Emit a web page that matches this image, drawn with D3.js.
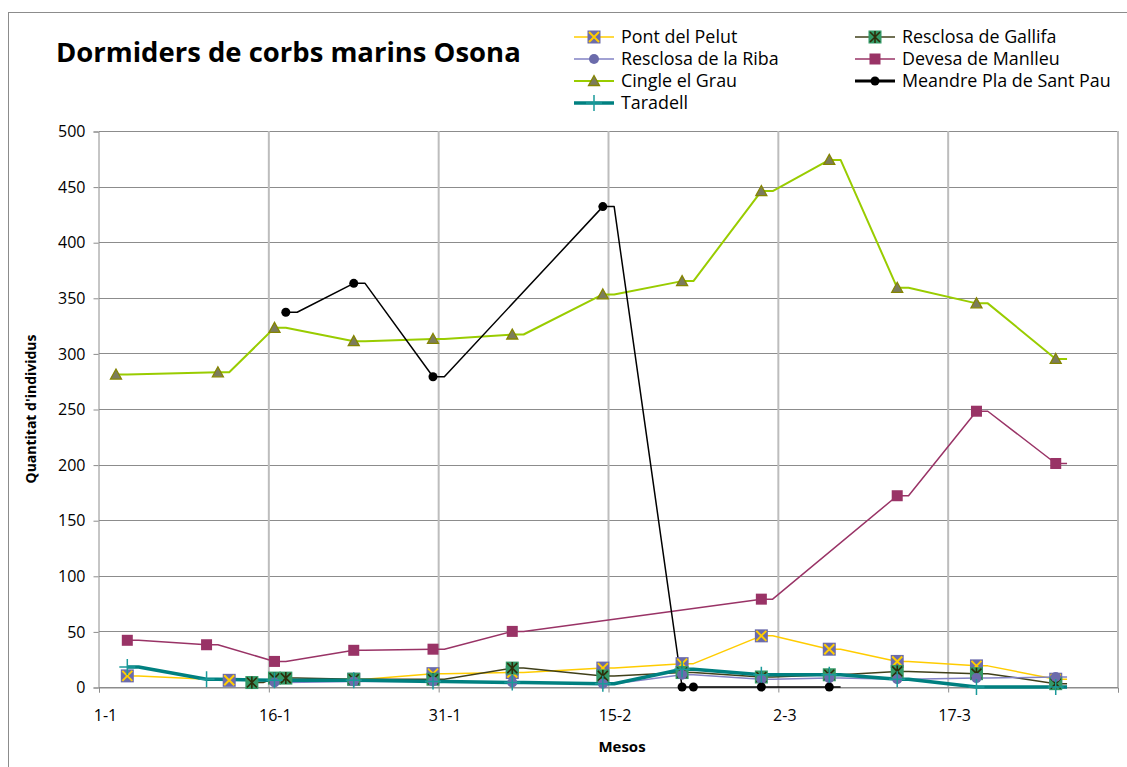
<!DOCTYPE html>
<html>
<head>
<meta charset="utf-8">
<script src="https://cdnjs.cloudflare.com/ajax/libs/d3/7.8.5/d3.min.js"></script>
<style>
  body { margin: 0; background: #fff; }
  svg { display: block; font-family: "Open Sans", sans-serif; }
</style>
</head>
<body>
<svg id="chart" width="1127" height="767"></svg>
<script>
// data (dates are day-month)
const seriesNames = ["Pont del Pelut", "Resclosa de Gallifa", "Resclosa de la Riba",
  "Devesa de Manlleu", "Cingle el Grau", "Meandre Pla de Sant Pau", "Taradell"];

const pontDates = ["3-1", "12-1", "23-1", "30-1", "6-2", "14-2", "21-2", "28-2", "6-3", "12-3", "19-3", "26-3"];
const pontValues = [10, 6, 7, 12, 13, 17, 21, 46, 34, 23, 19, 7];

const gallifaDates = ["14-1", "16-1", "17-1", "23-1", "30-1", "6-2", "14-2", "21-2", "28-2", "6-3", "12-3", "19-3", "26-3"];
const gallifaValues = [4, 8, 8, 7, 7, 17, 10, 13, 9, 11, 14, 12, 3];

const ribaDates = ["16-1", "23-1", "30-1", "6-2", "14-2", "21-2", "28-2", "6-3", "12-3", "19-3", "26-3"];
const ribaValues = [4, 5, 5, 4, 3, 11, 7, 8, 7, 8, 9];

const devesaDates = ["3-1", "10-1", "16-1", "23-1", "30-1", "6-2", "28-2", "12-3", "19-3", "26-3"];
const devesaValues = [42, 38, 23, 33, 34, 50, 79, 172, 248, 201];

const cingleDates = ["2-1", "11-1", "16-1", "23-1", "30-1", "6-2", "14-2", "21-2", "28-2", "6-3", "12-3", "19-3", "26-3"];
const cingleValues = [281, 283, 323, 311, 313, 317, 353, 365, 446, 474, 359, 345, 295];

const meandreDates = ["17-1", "23-1", "30-1", "14-2", "21-2", "22-2", "28-2", "6-3"];
const meandreValues = [337, 363, 279, 432, 0, 0, 0, 0];

const taradellDates = ["3-1", "10-1", "16-1", "23-1", "30-1", "6-2", "14-2", "21-2", "28-2", "6-3", "12-3", "19-3", "26-3"];
const taradellValues = [18, 7, 6, 6, 5, 4, 3, 16, 11, 11, 7, 0, 0];

const xTicks = ["1-1", "16-1", "31-1", "15-2", "2-3", "17-3"];
const yTicks = [0, 50, 100, 150, 200, 250, 300, 350, 400, 450, 500];

const parseDate = s => d3.utcParse("%d-%m-%Y")(s + "-2023");

const svg = d3.select("#chart");
const margin = { left: 99, right: 1118, top: 131, bottom: 687 };

const x = d3.scaleUtc()
  .domain([parseDate("1-1"), parseDate("1-4")])
  .range([margin.left, margin.right]);
const y = d3.scaleLinear().domain([0, 500]).range([margin.bottom, margin.top]);
const dayW = x(parseDate("2-1")) - x(parseDate("1-1"));

// outer chart border
svg.append("rect")
  .attr("x", 8.5).attr("y", 12.5)
  .attr("width", 1200).attr("height", 800)
  .attr("fill", "none").attr("stroke", "#8c8c8c");

// horizontal gridlines
svg.append("g")
  .selectAll("line")
  .data(yTicks)
  .join("line")
  .attr("x1", margin.left).attr("x2", margin.right)
  .attr("y1", d => Math.round(y(d)) + 0.5).attr("y2", d => Math.round(y(d)) + 0.5)
  .attr("stroke", "#8c8c8c");

// vertical gridlines
svg.append("g")
  .selectAll("line")
  .data(xTicks.slice(1).concat(["1-4"]))
  .join("line")
  .attr("x1", d => x(parseDate(d))).attr("x2", d => x(parseDate(d)))
  .attr("y1", margin.top).attr("y2", margin.bottom)
  .attr("stroke", "#bdbdbd").attr("stroke-width", 2);

// y axis
const yAxis = svg.append("g")
  .attr("transform", `translate(${margin.left - 0.5},0.5)`)
  .call(d3.axisLeft(y).tickValues(yTicks).tickSize(5).tickPadding(8));
yAxis.select(".domain").attr("stroke", "#8c8c8c");
yAxis.selectAll(".tick line").attr("stroke", "#8c8c8c");
yAxis.selectAll("text").attr("font-size", 16).attr("fill", "#000")
  .attr("font-family", "Open Sans");

// x axis
const xAxis = svg.append("g")
  .attr("transform", `translate(0,${Math.round(margin.bottom) + 0.5})`)
  .call(d3.axisBottom(x)
    .tickValues(xTicks.map(parseDate).concat([parseDate("1-4")]))
    .tickSize(5)
    .tickFormat(d => d3.utcFormat("%-d-%-m")(d)));
xAxis.select(".domain").attr("stroke", "#8c8c8c");
xAxis.selectAll(".tick line").attr("stroke", "#8c8c8c");
xAxis.selectAll("text")
  .attr("font-size", 16).attr("fill", "#000").attr("font-family", "Open Sans")
  .attr("dx", 6).attr("y", 0).attr("dy", 33)
  .text((d, i) => i < xTicks.length ? xTicks[i] : "");

// axis titles
svg.append("text")
  .attr("x", 622).attr("y", 752)
  .attr("text-anchor", "middle")
  .attr("font-size", 15).attr("font-weight", "bold")
  .text("Mesos");

svg.append("text")
  .attr("transform", "translate(36,409) rotate(-90)")
  .attr("text-anchor", "middle")
  .attr("font-size", 14).attr("font-weight", "bold")
  .text("Quantitat d'individus");

// title
const title = svg.append("text")
  .attr("x", 56).attr("y", 62)
  .attr("font-size", 28).attr("font-weight", "bold")
  .text("Dormiders de corbs marins Osona");
const tw = title.node().getComputedTextLength();
title.attr("font-size", 28 * 465 / tw);

const series = [
  { name: seriesNames[0], dates: pontDates, values: pontValues, color: "#ffcc00", width: 1.5, marker: "xsquare" },
  { name: seriesNames[1], dates: gallifaDates, values: gallifaValues, color: "#40401a", width: 1.5, marker: "star" },
  { name: seriesNames[2], dates: ribaDates, values: ribaValues, color: "#8282c4", width: 1.5, marker: "circle" },
  { name: seriesNames[3], dates: devesaDates, values: devesaValues, color: "#993366", width: 1.5, marker: "square" },
  { name: seriesNames[4], dates: cingleDates, values: cingleValues, color: "#99cc00", width: 2, marker: "triangle" },
  { name: seriesNames[5], dates: meandreDates, values: meandreValues, color: "#000000", width: 1.5, marker: "dot" },
  { name: seriesNames[6], dates: taradellDates, values: taradellValues, color: "#008080", width: 3.5, marker: "plus" }
];

series.forEach(s => {
  s.points = s.dates.map((d, i) => ({ date: parseDate(d), value: s.values[i] }));
});

// marker sits in the middle of its day, the line holds flat for one day after it
const px = d => x(d.date) + dayW / 2;
const line = d3.line();

const lineG = svg.append("g");
series.forEach(s => {
  const verts = [];
  s.points.forEach(p => {
    verts.push([px(p), y(p.value)]);
    verts.push([px(p) + dayW, y(p.value)]);
  });
  lineG.append("path")
    .attr("d", line(verts))
    .attr("fill", "none")
    .attr("stroke", s.color)
    .attr("stroke-width", s.width)
    .attr("stroke-linejoin", "round");
});

function drawMarker(g, type, cx, cy) {
  if (type === "xsquare") {
    g.append("rect").attr("x", cx - 6.5).attr("y", cy - 6.5).attr("width", 13).attr("height", 13)
      .attr("fill", "#6b6bab");
    g.append("path").attr("d", `M${cx - 5},${cy - 5}L${cx + 5},${cy + 5}M${cx - 5},${cy + 5}L${cx + 5},${cy - 5}`)
      .attr("stroke", "#ffcc00").attr("stroke-width", 2);
  } else if (type === "star") {
    g.append("rect").attr("x", cx - 6.5).attr("y", cy - 6.5).attr("width", 13).attr("height", 13)
      .attr("fill", "#339966");
    g.append("path").attr("d", `M${cx - 5},${cy - 5}L${cx + 5},${cy + 5}M${cx - 5},${cy + 5}L${cx + 5},${cy - 5}M${cx},${cy - 6}L${cx},${cy + 6}`)
      .attr("stroke", "#2e2e0a").attr("stroke-width", 1.6);
  } else if (type === "circle") {
    g.append("circle").attr("cx", cx).attr("cy", cy).attr("r", 5).attr("fill", "#6b6bab");
  } else if (type === "square") {
    g.append("rect").attr("x", cx - 5.5).attr("y", cy - 5.5).attr("width", 11).attr("height", 11)
      .attr("fill", "#993366");
  } else if (type === "triangle") {
    g.append("path").attr("d", `M${cx},${cy - 5.5}L${cx + 5.5},${cy + 4.5}L${cx - 5.5},${cy + 4.5}Z`)
      .attr("fill", "#7c7c5c").attr("stroke", "#858500").attr("stroke-width", 1.3);
  } else if (type === "dot") {
    g.append("circle").attr("cx", cx).attr("cy", cy).attr("r", 4.5).attr("fill", "#000");
  } else if (type === "plus") {
    g.append("path").attr("d", `M${cx - 8},${cy}L${cx + 8},${cy}M${cx},${cy - 8}L${cx},${cy + 8}`)
      .attr("stroke", "#1a9a9a").attr("stroke-width", 1.5);
  }
}

const markG = svg.append("g");
series.forEach(s => {
  s.points.forEach(p => drawMarker(markG, s.marker, px(p), y(p.value)));
});

// legend, two columns, filled row by row
const legendCols = [574, 855];
const legendRows = [37, 59, 81, 103];
const legend = svg.append("g");
const labels = [];
series.forEach((s, i) => {
  const lx = legendCols[i % 2];
  const ly = legendRows[Math.floor(i / 2)];
  legend.append("line")
    .attr("x1", lx).attr("x2", lx + 40)
    .attr("y1", ly).attr("y2", ly)
    .attr("stroke", s.color)
    .attr("stroke-width", s.marker === "dot" ? 3 : s.width);
  drawMarker(legend, s.marker, lx + 20, ly);
  labels.push(legend.append("text")
    .attr("x", lx + 47).attr("y", ly)
    .attr("dy", "0.35em")
    .attr("font-size", 18)
    .text(s.name));
});
const lw = labels[5].node().getComputedTextLength();
labels.forEach(t => t.attr("font-size", 18 * 209 / lw));
</script>
</body>
</html>
